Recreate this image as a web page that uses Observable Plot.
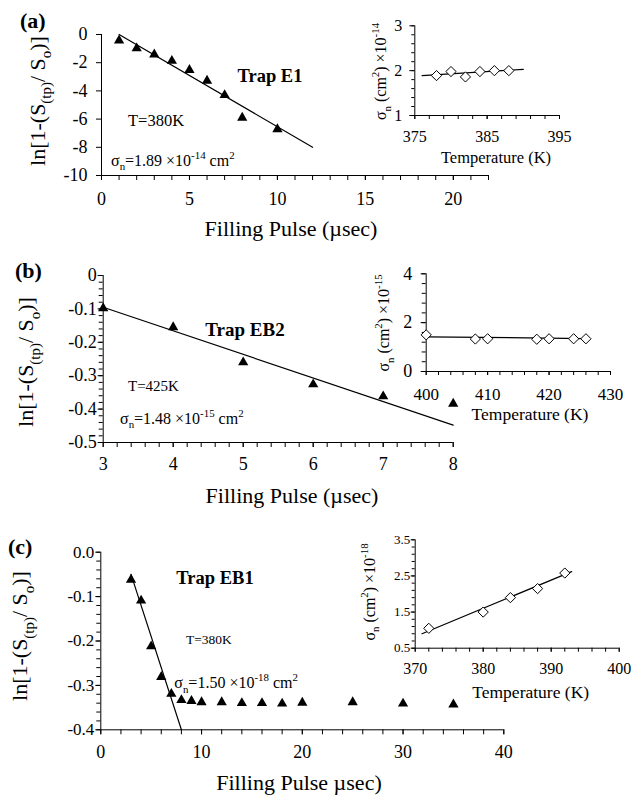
<!DOCTYPE html>
<html><head><meta charset="utf-8">
<script src="https://cdn.jsdelivr.net/npm/d3@7"></script>
<script src="https://cdn.jsdelivr.net/npm/@observablehq/plot@0.6"></script>
<style>
body{margin:0;background:#fff;}
#root{position:relative;width:641px;height:796px;background:#fff;overflow:hidden;}
#root > svg{position:absolute;}
text{white-space:pre;}
</style></head><body><div id="root"></div>
<script>
// ---------- data ----------
// (a) Trap E1
const aPulse = [1, 2, 3, 4, 5, 6, 7, 8, 10];
const aLn = [-0.42, -0.98, -1.42, -1.87, -2.52, -3.28, -4.3, -5.9, -6.72];
const aFitX = [1, 12];
const aFitY = [0, -8];
const aTemp = [378, 380, 382, 384, 386, 388];
const aSigma = [1.89, 1.98, 1.86, 1.98, 2.0, 2.0];
const aSigFitX = [376, 390];
const aSigFitY = [1.89, 2.03];
// (b) Trap EB2
const bPulse = [3, 4, 5, 6, 7, 8];
const bLn = [-0.098, -0.155, -0.26, -0.326, -0.362, -0.384];
const bFitX = [3, 8];
const bFitY = [-0.095, -0.448];
const bTemp = [400, 408, 410, 418, 420, 424, 426];
const bSigma = [1.5, 1.33, 1.34, 1.32, 1.34, 1.34, 1.34];
const bSigFitX = [400, 426];
const bSigFitY = [1.42, 1.35];
// (c) Trap EB1
const cPulse = [3, 4, 5, 6, 7, 8, 9, 10, 12, 14, 16, 18, 20, 25, 30, 35];
const cLn = [-0.062, -0.109, -0.212, -0.281, -0.319, -0.333, -0.335, -0.338, -0.338, -0.34, -0.34, -0.341, -0.339, -0.338, -0.341, -0.343];
const cFitX = [3, 8];
const cFitY = [-0.05, -0.4];
const cTemp = [372, 380, 384, 388, 392];
const cSigma = [1.05, 1.5, 1.9, 2.15, 2.58];
const cSigFitX = [371, 393];
const cSigFitY = [0.9, 2.62];
// tick values
const aXTicks = [0, 5, 10, 15, 20];
const aYTicks = [-10, -8, -6, -4, -2, 0];
const aiXTicks = [375, 385, 395];
const aiYTicks = [1, 2, 3];
const bXTicks = [3, 4, 5, 6, 7, 8];
const bYTicks = [0, -0.1, -0.2, -0.3, -0.4, -0.5];
const biXTicks = [400, 410, 420, 430];
const biYTicks = [0, 2, 4];
const cXTicks = [0, 10, 20, 30, 40];
const cYTicks = [0, -0.1, -0.2, -0.3, -0.4];
const ciXTicks = [370, 380, 390, 400];
const ciYTicks = [0.5, 1.5, 2.5, 3.5];

// ---------- helpers ----------
const FONT = '"Liberation Serif", "Times New Roman", serif';
const root = document.getElementById("root");
const rows = (xs, ys) => xs.map((x, i) => ({x, y: ys[i]}));
const steps = (a, b, s) => d3.range(Math.round((b - a) / s) + 1).map(i => +(a + i * s).toFixed(4));
const intFmt = d => String(d);
const f1 = d => d.toFixed(1);
const f1z = d => d === 0 ? "0" : d.toFixed(1);

function panel(o) {
  const [x0, x1, y0, y1] = o.frame;
  const marks = [
    Plot.ruleX([o.xDomain[0]], {stroke: "black", strokeWidth: 1}),
    Plot.ruleY([o.yDomain[0]], {stroke: "black", strokeWidth: 1}),
  ];
  if (o.xMinor) marks.push(Plot.axisX({ticks: o.xMinor, tickSize: o.xMinorSize ?? o.xSize, tickFormat: () => "", label: null}));
  if (o.yMinor) marks.push(Plot.axisY({ticks: o.yMinor, tickSize: o.yMinorSize ?? o.ySize, tickFormat: () => "", label: null}));
  marks.push(Plot.axisX({ticks: o.xTicks, tickSize: o.xSize, tickPadding: o.xPad, tickFormat: o.xFmt, fontSize: o.xFont, label: null}));
  marks.push(Plot.axisY({ticks: o.yTicks, tickSize: o.ySize, tickPadding: o.yPad, tickFormat: o.yFmt, fontSize: o.yFont, label: null}));
  marks.push(...o.marks);
  const svg = Plot.plot({
    width: o.width, height: o.height,
    marginLeft: x0 - o.left, marginRight: o.left + o.width - x1,
    marginTop: y0 - o.top, marginBottom: o.top + o.height - y1,
    x: {domain: o.xDomain, label: null},
    y: {domain: o.yDomain, label: null},
    style: {fontFamily: FONT, background: "transparent", overflow: "visible", maxWidth: "none", color: "black"},
    marks
  });
  svg.style.left = o.left + "px";
  svg.style.top = o.top + "px";
  root.appendChild(svg);
  svg._off = {left: o.left, top: o.top};
  return svg;
}

function rich(svg, parts, o) {
  const off = svg._off;
  const t = d3.select(svg).append("text")
    .attr("font-family", FONT).attr("font-size", o.size)
    .attr("font-weight", o.weight || "normal")
    .attr("text-anchor", o.anchor || "start").attr("fill", "black");
  const X = o.x - off.left, Y = o.y - off.top;
  if (o.rotate) t.attr("transform", `translate(${X},${Y}) rotate(${o.rotate})`);
  else t.attr("x", X).attr("y", Y);
  let cur = 0;
  for (const p of parts) {
    const s = p[0], k = p[1] || "n";
    const shift = k === "sub" ? o.size * 0.3 : k === "sup" ? -o.size * 0.42 : 0;
    t.append("tspan").attr("font-size", k === "n" ? o.size : o.size * 0.68)
      .attr("dy", shift - cur).text(s);
    cur = shift;
  }
}

const tri = (xs, ys) => Plot.dot(rows(xs, ys), {x: "x", y: "y", symbol: "triangle", r: 3.8, fill: "black", stroke: "none"});
const dia = (xs, ys) => Plot.dot(rows(xs, ys), {x: "x", y: "y", symbol: "diamond2", r: 4.6, fill: "white", stroke: "black", strokeWidth: 1});
const fit = (xs, ys) => Plot.line(rows(xs, ys), {x: "x", y: "y", stroke: "black", strokeWidth: 1.2});

const lnLabel = [["ln[1-(S"], ["(tp)", "sub"], ["/ S"], ["o", "sub"], [")]"]];
const sigLabel = e => [["σ"], ["n", "sub"], [" (cm"], ["2", "sup"], [") ×10"], [e, "sup"]];
const sigText = (v, e) => [["σ"], ["n", "sub"], ["=" + v + " ×10"], [e, "sup"], [" cm"], ["2", "sup"]];

// ---------- (a) ----------
const A = panel({
  left: 0, top: 0, width: 500, height: 250, frame: [101, 488, 34, 175],
  xDomain: [0, 22], yDomain: [-10, 0],
  xTicks: aXTicks, xMinor: steps(0, 22, 1), yTicks: aYTicks,
  xSize: 5, xPad: 12, ySize: 5, yPad: 9, xFont: 18, yFont: 18, xFmt: intFmt, yFmt: intFmt,
  marks: [fit(aFitX, aFitY), tri(aPulse, aLn)]
});
rich(A, [["(a)"]], {x: 20, y: 28, size: 22, weight: "bold"});
rich(A, lnLabel, {x: 44.5, y: 101, size: 22, anchor: "middle", rotate: -90});
rich(A, [["Filling Pulse (µsec)"]], {x: 291, y: 236, size: 22, anchor: "middle"});
rich(A, [["Trap E1"]], {x: 270, y: 82, size: 18.5, weight: "bold", anchor: "middle"});
rich(A, [["T=380K"]], {x: 128, y: 126, size: 16.5});
rich(A, sigText("1.89", "-14"), {x: 111, y: 165.5, size: 16});

const AI = panel({
  left: 330, top: 0, width: 270, height: 180, frame: [414.3, 559, 25.3, 115],
  xDomain: [375, 395], yDomain: [1, 3],
  xTicks: aiXTicks, xMinor: steps(375, 395, 2), yTicks: aiYTicks, yMinor: steps(1, 3, 0.2),
  xSize: 4, xPad: 11, ySize: 5, yMinorSize: 3, yPad: 7.6, xFont: 16, yFont: 16, xFmt: intFmt, yFmt: intFmt,
  marks: [fit(aSigFitX, aSigFitY), dia(aTemp, aSigma)]
});
rich(AI, sigLabel("-14"), {x: 386, y: 71.5, size: 16, anchor: "middle", rotate: -90});
rich(AI, [["Temperature (K)"]], {x: 496, y: 162.5, size: 16.5, anchor: "middle"});

// ---------- (b) ----------
const B = panel({
  left: 0, top: 255, width: 500, height: 265, frame: [102.7, 452.7, 275, 442],
  xDomain: [3, 8], yDomain: [-0.5, 0],
  xTicks: bXTicks, xMinor: steps(3, 8, 0.2), yTicks: bYTicks, yMinor: steps(-0.5, 0, 0.02),
  xSize: 5, xPad: 9.5, ySize: 5, yMinorSize: 4, yPad: 1.5, xFont: 18, yFont: 18, xFmt: intFmt, yFmt: f1z,
  marks: [fit(bFitX, bFitY), tri(bPulse, bLn)]
});
rich(B, [["(b)"]], {x: 15, y: 278, size: 22, weight: "bold"});
rich(B, lnLabel, {x: 33, y: 362, size: 22, anchor: "middle", rotate: -90});
rich(B, [["Filling Pulse (µsec)"]], {x: 292, y: 503, size: 22, anchor: "middle"});
rich(B, [["Trap EB2"]], {x: 245, y: 336, size: 19, weight: "bold", anchor: "middle"});
rich(B, [["T=425K"]], {x: 128, y: 391, size: 15});
rich(B, sigText("1.48", "-15"), {x: 120, y: 423.5, size: 16});

const BI = panel({
  left: 330, top: 255, width: 300, height: 230, frame: [425.7, 610, 273.3, 371],
  xDomain: [400, 430], yDomain: [0, 4],
  xTicks: biXTicks, xMinor: steps(400, 430, 2), yTicks: biYTicks, yMinor: steps(0, 4, 0.4),
  xSize: 4, xPad: 12, ySize: 5, yMinorSize: 4, yPad: 9, xFont: 17, yFont: 18, xFmt: intFmt, yFmt: intFmt,
  marks: [fit(bSigFitX, bSigFitY), dia(bTemp, bSigma)]
});
rich(BI, sigLabel("-15"), {x: 389, y: 323, size: 16, anchor: "middle", rotate: -90});
rich(BI, [["Temperature (K)"]], {x: 530, y: 420, size: 17.5, anchor: "middle"});

// ---------- (c) ----------
const C = panel({
  left: 0, top: 520, width: 560, height: 276, frame: [100.3, 503.3, 551.7, 729.3],
  xDomain: [0, 40], yDomain: [-0.4, 0],
  xTicks: cXTicks, xMinor: steps(0, 40, 2), yTicks: cYTicks, yMinor: steps(-0.4, 0, 0.02),
  xSize: 5, xPad: 10, ySize: 5, yMinorSize: 4, yPad: 1.5, xFont: 18, yFont: 17, xFmt: intFmt, yFmt: f1,
  marks: [fit(cFitX, cFitY), tri(cPulse, cLn)]
});
rich(C, [["(c)"]], {x: 8, y: 554, size: 22, weight: "bold"});
rich(C, lnLabel, {x: 27, y: 636, size: 22, anchor: "middle", rotate: -90});
rich(C, [["Filling Pulse µsec)"]], {x: 299, y: 790, size: 22, anchor: "middle"});
rich(C, [["Trap EB1"]], {x: 215, y: 584, size: 18.5, weight: "bold", anchor: "middle"});
rich(C, [["T=380K"]], {x: 186, y: 644, size: 13.5});
rich(C, sigText("1.50", "-18"), {x: 174.3, y: 687.7, size: 16});

const CI = panel({
  left: 330, top: 520, width: 311, height: 200, frame: [414.7, 618.7, 539.3, 647.7],
  xDomain: [370, 400], yDomain: [0.5, 3.5],
  xTicks: ciXTicks, xMinor: steps(370, 400, 2), yTicks: ciYTicks, yMinor: steps(0.5, 3.5, 0.2),
  xSize: 4, xPad: 10, ySize: 4, yMinorSize: 3, yPad: 1, xFont: 16, yFont: 13, xFmt: intFmt, yFmt: f1,
  marks: [fit(cSigFitX, cSigFitY), dia(cTemp, cSigma)]
});
rich(CI, sigLabel("-18"), {x: 374.5, y: 592, size: 16, anchor: "middle", rotate: -90});
rich(CI, [["Temperature (K)"]], {x: 530.7, y: 698, size: 17.5, anchor: "middle"});
</script></body></html>
